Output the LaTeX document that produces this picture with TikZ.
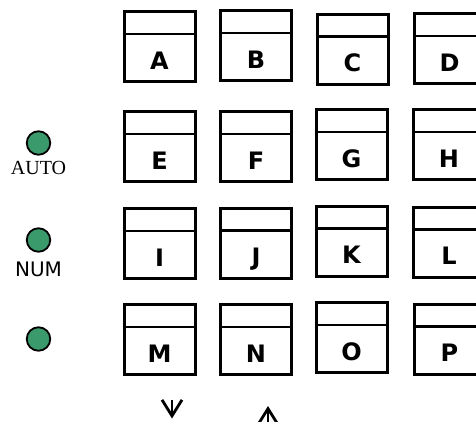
\documentclass[tikz,border=0pt]{standalone}
\usepackage{fontspec}
\setmainfont{DejaVu Sans}
\newfontfamily\seriffont{Liberation Serif}
\usetikzlibrary{arrows.meta,positioning,calc}
\definecolor{ledgreen}{HTML}{3A9A6B}

\begin{document}
\begin{tikzpicture}[x=1pt, y=-1pt,
  keybox/.style={rectangle, draw, line width=3pt, minimum width=71pt,
                 minimum height=70pt, inner sep=0pt},
  keyname/.style={font=\fontsize{24}{28}\selectfont\bfseries, anchor=base,
                  inner sep=0pt},
  led/.style={circle, draw, fill=ledgreen, line width=1.8pt,
              minimum size=23.5pt, inner sep=0pt},
  ledname/.style={font=\fontsize{20}{24}\selectfont, anchor=base, inner sep=0pt},
  arr/.style={-{Straight Barb[length=16pt,width=20pt]}, line width=2.8pt},
]
\useasboundingbox (0,0) rectangle (476,421);
\clip (0,0) rectangle (476,421);

% key grid
\foreach \k/\x/\y in {A/159.5/46.5, B/256/45.5, C/352.5/49, D/449.5/48.5,
                      E/159.5/146.5, F/256/146.5, G/351.5/144.5, H/449/144.5,
                      I/159.5/243.5, J/256/243, K/351.5/241, L/449/242,
                      M/159.5/339.5, N/256/339.5, O/351.5/337.5, P/449.5/339}{
  \node[keybox] (\k) at (\x,\y) {};
  \draw[line width=2.6pt] ([yshift=-24pt]\k.north west) -- ([yshift=-24pt]\k.north east);
  \node[keyname] (\k-name) at ([yshift=14pt]\k.south) {\k};
}

% indicator lamps
\node[led] (led-auto) at (38.5,143) {};
\node[ledname] (auto) at ([yshift=-31pt]led-auto.center) {\seriffont AUTO};
\node[led] (led-num) at (38.5,240) {};
\node[ledname] (num) at ([yshift=-36pt]led-num.center) {NUM};
\node[led] (led-third) at (38.5,339) {};

% scroll arrows
\coordinate (down-from) at (172,399.5);
\coordinate (down-to) at (172,418.5);
\coordinate (up-from) at (268,424);
\coordinate (up-to) at (268,406);
\draw[arr] (down-from) -- (down-to);
\draw[arr] (up-from) -- (up-to);

\end{tikzpicture}
\end{document}
